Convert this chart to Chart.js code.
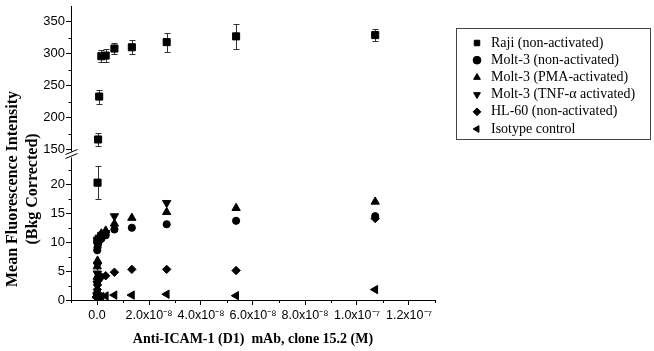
<!DOCTYPE html>
<html>
<head>
<meta charset="utf-8">
<script src="https://cdn.jsdelivr.net/npm/chart.js@4.4.0/dist/chart.umd.min.js"></script>
<style>
  html, body { margin: 0; padding: 0; background: #fff; }
  canvas { display: block; }
</style>
</head>
<body>
<canvas id="icamChart" width="654" height="351"></canvas>
<script>
// antibody concentrations (M), same for every cell line
const concentrations = [1.07e-7, 5.35e-8, 2.68e-8, 1.34e-8, 6.7e-9, 3.35e-9, 1.67e-9, 8.4e-10, 4.2e-10, 2.1e-10, 1.0e-10, 5.0e-11, 2.5e-11];

const rajiValues   = [329, 327, 318, 310, 308, 297, 296, 233, 166, 20.3, 10.3, null, null];
const rajiErrors   = [10, 20, 15, 11, 8, 10, 9, 11, 9.5, 2.9, 0.4, null, null];
const molt3Values  = [14.5, 13.7, 13.1, 12.5, 12.2, 11.2, 10.6, 10.3, 9.7, 9.1, 8.6, null, null];
const pmaValues    = [17.0, 15.9, 15.2, 14.2, 13.2, 12.0, 11.5, 11.0, 10.6, 6.8, 5.8, 4.0, 1.5];
const tnfValues    = [null, null, 16.8, null, 14.5, 11.6, 11.2, 10.8, 10.2, 6.0, 4.6, 2.8, 0.9];
const hl60Values   = [14.1, 5.1, 5.3, 5.3, 4.8, 4.2, 4.0, 3.8, 3.4, 2.6, 1.8, 1.0, 0.4];
const isotypeValues = [1.8, 0.75, 1.0, 0.85, 0.85, 0.7, 0.6, 0.55, 0.7, 0.5, 0.5, 0.6, 0.4];

const seriesLabels = ['Raji (non-activated)', 'Molt-3 (non-activated)', 'Molt-3 (PMA-activated)',
  'Molt-3 (TNF-\u03b1 activated)', 'HL-60 (non-activated)', 'Isotype control'];

const xTickValues = [0, 2e-8, 4e-8, 6e-8, 8e-8, 1.0e-7, 1.2e-7];
const xTickLabels = ['0.0', '2.0x10\u207b\u2078', '4.0x10\u207b\u2078', '6.0x10\u207b\u2078', '8.0x10\u207b\u2078', '1.0x10\u207b\u2077', '1.2x10\u207b\u2077'];
const xMinorTicks = [-1e-8, 1e-8, 3e-8, 5e-8, 7e-8, 9e-8, 1.1e-7, 1.3e-7];
const upperTicks = [150, 200, 250, 300, 350];
const upperMinorTicks = [175, 225, 275, 325];
const lowerTicks = [0, 5, 10, 15, 20];
const lowerMinorTicks = [2.5, 7.5, 12.5, 17.5, 22.5];

const xTitle = 'Anti-ICAM-1 (D1)  mAb, clone 15.2 (M)';
const yTitleLines = ['Mean Fluorescence Intensity', '(Bkg Corrected)'];

const BREAK = 100; // values above this go on the upper part of the broken axis

function toPoints(values, keep, errors) {
  const pts = [];
  values.forEach((v, i) => {
    if (v === null || !keep(v)) return;
    const p = { x: concentrations[i], y: v };
    if (errors) p.err = errors[i];
    pts.push(p);
  });
  return pts;
}

const serif = '"Liberation Serif", "Times New Roman", serif';
const sans = '"Liberation Sans", Arial, sans-serif';

function series(label, data, style, radius, rotation, axis) {
  return {
    label: label,
    data: data,
    yAxisID: axis || 'y',
    pointStyle: style,
    pointRadius: radius,
    pointHoverRadius: radius,
    rotation: rotation || 0,
    backgroundColor: '#000',
    borderColor: '#000',
    borderWidth: 1,
    showLine: false
  };
}

const rajiUpper = series(seriesLabels[0], toPoints(rajiValues, v => v > BREAK, rajiErrors), 'rect', 5, 0, 'yTop');
rajiUpper.hasErrors = true;
const rajiLower = series(seriesLabels[0], toPoints(rajiValues, v => v <= BREAK, rajiErrors), 'rect', 5, 0, 'y');
rajiLower.hasErrors = true;
rajiLower.inLegend = false;

const datasets = [
  rajiUpper,
  series(seriesLabels[1], toPoints(molt3Values, () => true), 'circle', 3.6),
  series(seriesLabels[2], toPoints(pmaValues, () => true), 'triangle', 4.8),
  series(seriesLabels[3], toPoints(tnfValues, () => true), 'triangle', 4.8, 180),
  series(seriesLabels[4], toPoints(hl60Values, () => true), 'rectRot', 4.2),
  series(seriesLabels[5], toPoints(isotypeValues, () => true), 'triangle', 4.8, -90),
  rajiLower
];

// error bars for the Raji points
const errorBars = {
  id: 'errorBars',
  beforeDatasetsDraw(chart) {
    const c = chart.ctx;
    c.save();
    c.strokeStyle = '#333';
    c.lineWidth = 1;
    chart.data.datasets.forEach((ds, di) => {
      if (!ds.hasErrors) return;
      const meta = chart.getDatasetMeta(di);
      meta.data.forEach((pt, j) => {
        const d = ds.data[j];
        if (!d.err) return;
        const px = Math.round(pt.x) + 0.5;
        const top = Math.round(meta.yScale.getPixelForValue(d.y + d.err)) + 0.5;
        const bot = Math.round(meta.yScale.getPixelForValue(d.y - d.err)) + 0.5;
        c.beginPath();
        c.moveTo(px, top); c.lineTo(px, bot);
        c.moveTo(px - 3, top); c.lineTo(px + 3, top);
        c.moveTo(px - 3, bot); c.lineTo(px + 3, bot);
        c.stroke();
      });
    });
    c.restore();
  }
};

// minor ticks, axis break and y title
const axisExtras = {
  id: 'axisExtras',
  afterDraw(chart) {
    const c = chart.ctx;
    const { x, y, yTop } = chart.scales;
    const ax = Math.round(y.right) + 0.5;
    c.save();
    c.strokeStyle = '#000';
    c.lineWidth = 1;
    c.beginPath();
    xMinorTicks.forEach(v => {
      const px = Math.round(x.getPixelForValue(v)) + 0.5;
      c.moveTo(px, x.top); c.lineTo(px, x.top + 3);
    });
    lowerMinorTicks.forEach(v => {
      const py = Math.round(y.getPixelForValue(v)) + 0.5;
      c.moveTo(ax, py); c.lineTo(ax - 3, py);
    });
    upperMinorTicks.forEach(v => {
      const py = Math.round(yTop.getPixelForValue(v)) + 0.5;
      c.moveTo(ax, py); c.lineTo(ax - 3, py);
    });
    c.stroke();

    // break in the y axis
    const by = y.top;
    c.fillStyle = '#fff';
    c.fillRect(ax - 2, by - 4, 4, 6);
    c.beginPath();
    c.moveTo(ax - 6, by - 1); c.lineTo(ax + 6, by - 6);
    c.moveTo(ax - 6, by + 3); c.lineTo(ax + 6, by - 2);
    c.stroke();

    // two-line y axis title
    c.fillStyle = '#000';
    c.font = 'bold 16px ' + serif;
    c.textAlign = 'center';
    c.textBaseline = 'middle';
    c.translate(0, 189);
    c.rotate(-Math.PI / 2);
    yTitleLines.forEach((t, i) => c.fillText(t, 0, 13 + i * 20));
    c.restore();

    // legend frame
    c.save();
    c.strokeStyle = '#444';
    c.lineWidth = 1;
    c.strokeRect(456.5, 28.5, 194, 111);
    c.restore();
  }
};

// put the legend box to the right of the plot
const legendPlacement = {
  id: 'legendPlacement',
  afterLayout(chart) {
    const lg = chart.legend;
    lg.left = 466.8; lg.top = 32.8; lg.right = 650; lg.bottom = 160;
    lg.width = lg.right - lg.left;
    lg.height = lg.bottom - lg.top;
  }
};

const tickColor = '#000';

new Chart(document.getElementById('icamChart'), {
  type: 'scatter',
  data: { datasets: datasets },
  plugins: [errorBars, axisExtras, legendPlacement],
  options: {
    responsive: false,
    animation: false,
    devicePixelRatio: 1,
    layout: { padding: { top: 5, right: 219, bottom: 0, left: 0 } },
    plugins: {
      tooltip: { enabled: false },
      legend: {
        position: 'chartArea',
        align: 'start',
        labels: {
          usePointStyle: true,
          boxWidth: 14,
          boxHeight: 5.5,
          padding: 3.2,
          color: '#000',
          font: { family: serif, size: 14 },
          filter: (item, data) => data.datasets[item.datasetIndex].inLegend !== false
        }
      }
    },
    scales: {
      x: {
        type: 'linear',
        position: 'bottom',
        min: -1e-8,
        max: 1.3e-7,
        afterBuildTicks: s => { s.ticks = xTickValues.map(v => ({ value: v })); },
        afterFit: s => { s.height = 51; s.paddingLeft = 0; s.paddingRight = 0; },
        grid: { drawOnChartArea: false, tickLength: 5, color: tickColor },
        border: { display: true, color: '#000', width: 1 },
        ticks: {
          autoSkip: false,
          maxRotation: 0,
          padding: 3,
          color: '#000',
          font: { family: sans, size: 12.5 },
          callback: (v, i) => xTickLabels[i]
        },
        title: {
          display: true,
          text: xTitle,
          color: '#000',
          font: { family: serif, size: 14, weight: 'bold' },
          padding: { top: 2, bottom: 3 }
        }
      },
      // lower part of the broken axis (listed first so the stack puts it at the bottom)
      y: {
        type: 'linear',
        position: 'left',
        stack: 'yaxis',
        stackWeight: 145,
        min: 0,
        max: 25,
        afterBuildTicks: s => { s.ticks = lowerTicks.map(v => ({ value: v })); },
        afterFit: s => { s.width = 71; s.paddingTop = 0; s.paddingBottom = 0; },
        grid: { drawOnChartArea: false, tickLength: 5, color: tickColor },
        border: { display: true, color: '#000', width: 1 },
        ticks: { padding: 1, color: '#000', font: { family: sans, size: 13 } }
      },
      yTop: {
        type: 'linear',
        position: 'left',
        stack: 'yaxis',
        stackWeight: 150,
        min: 141,
        max: 374.4,
        afterBuildTicks: s => { s.ticks = upperTicks.map(v => ({ value: v })); },
        afterFit: s => { s.width = 71; s.paddingTop = 0; s.paddingBottom = 0; },
        grid: { drawOnChartArea: false, tickLength: 5, color: tickColor },
        border: { display: true, color: '#000', width: 1 },
        ticks: { padding: 1, color: '#000', font: { family: sans, size: 13 } }
      }
    }
  }
});
</script>
</body>
</html>
